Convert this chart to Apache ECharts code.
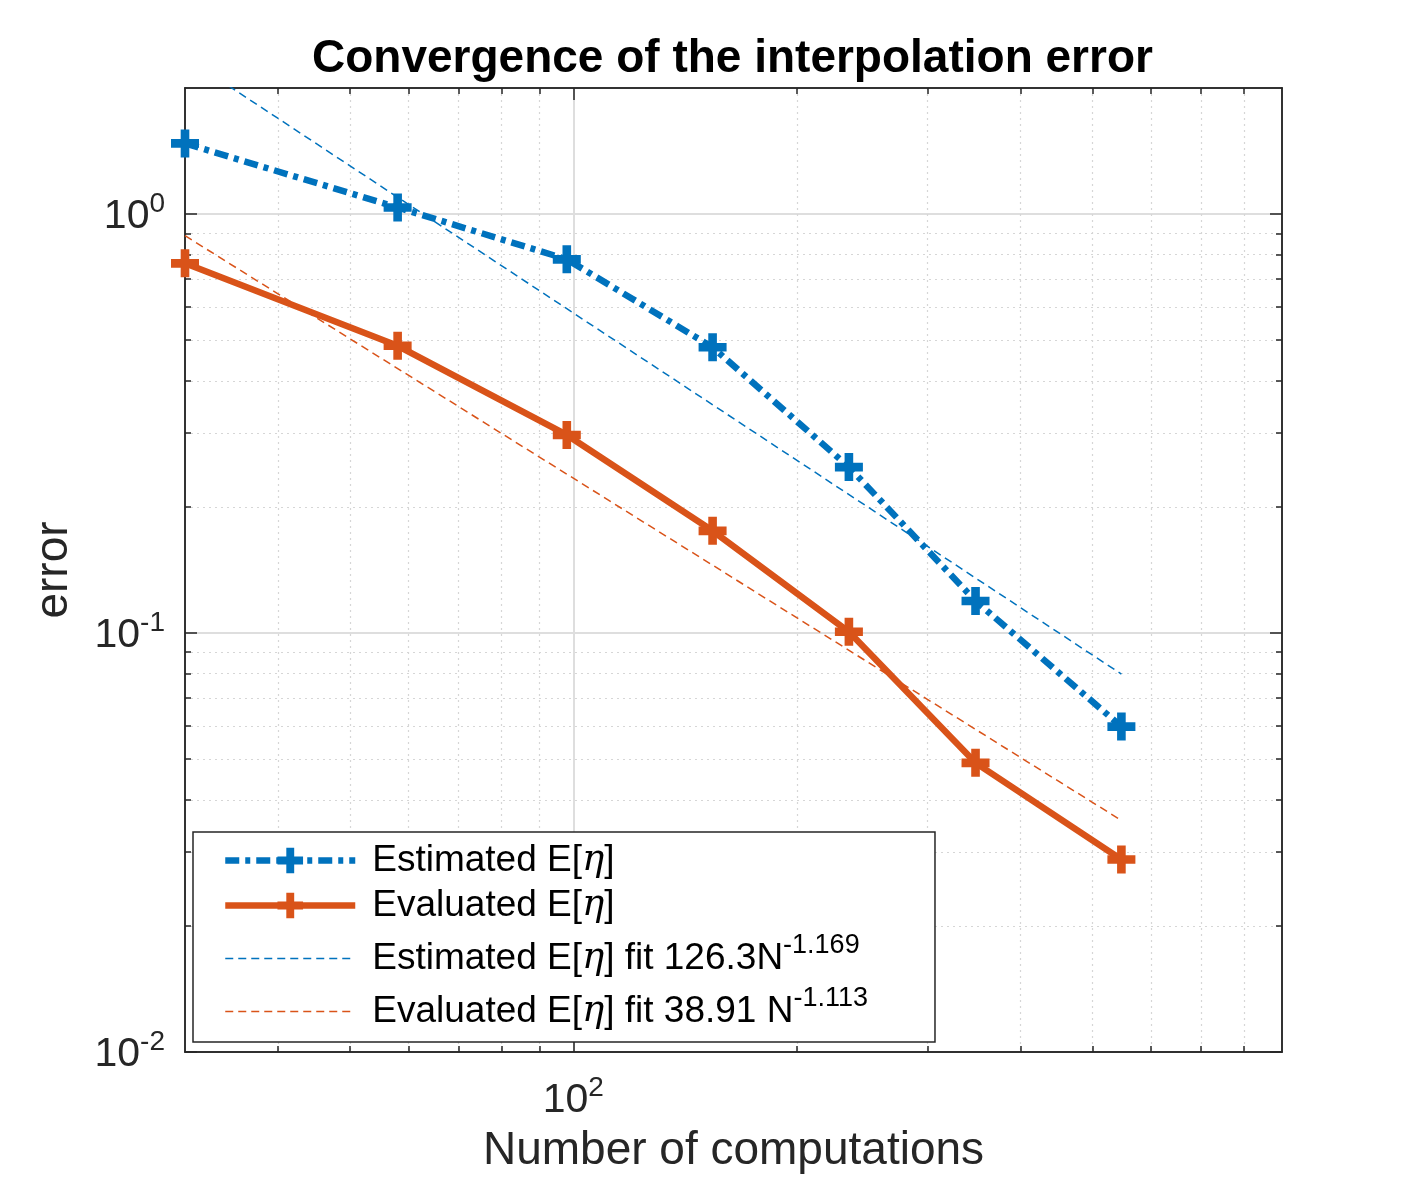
<!DOCTYPE html>
<html>
<head>
<meta charset="utf-8">
<title>Convergence of the interpolation error</title>
<script src="https://cdn.jsdelivr.net/npm/echarts@6/dist/echarts.min.js"></script>
<style>
  html, body { margin: 0; padding: 0; background: #fff; }
  #main { width: 1417px; height: 1181px; }
</style>
</head>
<body>
<div id="main"></div>
<script>
// data
var nComp = [30, 58, 98, 154, 235, 348, 547];
var estimated = [1.475, 1.037, 0.780, 0.481, 0.249, 0.1193, 0.0598];
var evaluated = [0.763, 0.485, 0.297, 0.1754, 0.1007, 0.0490, 0.0288];

// end points of the two fitted power laws (straight in log-log)
var fitN = [30, 547];
var estimatedFit = [2.37, 0.0798];
var evaluatedFit = [0.888, 0.0357];

// ticks
var xMajor = [100];
var xMinor = [40, 50, 60, 70, 80, 90, 200, 300, 400, 500, 600, 700, 800];
var yMajor = [0.01, 0.1, 1];
var yMinor = [0.02, 0.03, 0.04, 0.05, 0.06, 0.07, 0.08, 0.09,
              0.2, 0.3, 0.4, 0.5, 0.6, 0.7, 0.8, 0.9];

var legendNames = ['Estimated E[η]', 'Evaluated E[η]', 'Estimated E[η] fit', 'Evaluated E[η] fit'];
var legendLabels = {
  'Estimated E[η]': 'Estimated E[{it|η}]',
  'Evaluated E[η]': 'Evaluated E[{it|η}]',
  'Estimated E[η] fit': 'Estimated E[{it|η}] fit 126.3N{sup|-1.169}',
  'Evaluated E[η] fit': 'Evaluated E[{it|η}] fit 38.91 N{sup|-1.113}'
};

var BLUE = '#0072BD';
var ORANGE = '#D95319';
var AX = '#262626';
var FONT = 'Liberation Sans';
var PLUS = 'path://M9,0H17V9H26V17H17V26H9V17H0V9H9Z';

function pairs(xs, ys) {
  return xs.map(function (x, i) { return [x, ys[i]]; });
}

function powLabel(v) {
  var e = Math.round(Math.log10(v));
  return '{b|10}{sup|' + e + '}';
}
var powRich = {
  b: { fontSize: 41, fontFamily: FONT, color: AX, verticalAlign: 'bottom' },
  sup: { fontSize: 28, fontFamily: FONT, color: AX, verticalAlign: 'bottom', padding: [0, 0, 19, 0] }
};

function logAxis(dim, pos, ticks, len, opts) {
  var ax = {
    type: 'log',
    logBase: 10,
    position: pos,
    min: dim === 'x' ? 30 : 0.01,
    max: dim === 'x' ? 900 : 2,
    axisLine: { show: true, lineStyle: { color: AX, width: 1.5 } },
    axisTick: { show: true, inside: true, length: len, customValues: ticks,
                lineStyle: { color: AX, width: 1.5 } },
    axisLabel: { show: false },
    splitLine: { show: false },
    minorTick: { show: false },
    minorSplitLine: { show: false }
  };
  return Object.assign(ax, opts || {});
}

var chart = echarts.init(document.getElementById('main'), null, { renderer: 'canvas' });

var option = {
  backgroundColor: '#fff',
  animation: false,
  title: {
    text: 'Convergence of the interpolation error',
    left: 312,
    top: 31,
    padding: [5, 0, 5, 0],
    textStyle: { fontSize: 46, fontWeight: 'bold', color: '#000', fontFamily: FONT }
  },
  grid: {
    left: 185, right: 135, top: 88, bottom: 129,
    containLabel: false,
    outerBoundsMode: 'none',
    show: false
  },
  legend: {
    data: legendNames.map(function (n, i) {
      var item = { name: n };
      if (i >= 2) item.itemStyle = { opacity: 0 };
      item.lineStyle = { width: i < 2 ? 6.5 : 1.5 };
      return item;
    }),
    orient: 'vertical',
    left: 193,
    top: 832,
    itemWidth: 130,
    itemHeight: 32,
    itemGap: 8,
    padding: [10, 67, 12, 29],
    backgroundColor: '#fff',
    borderColor: AX,
    borderWidth: 1.5,
    borderRadius: 0,
    selectedMode: false,
    formatter: function (name) { return legendLabels[name]; },
    textStyle: {
      fontSize: 37,
      fontFamily: FONT,
      color: '#000',
      padding: [0, 0, 0, 12],
      rich: {
        it: { fontSize: 37, fontStyle: 'italic', fontFamily: 'DejaVu Serif', color: '#000' },
        sup: { fontSize: 27, fontFamily: FONT, color: '#000', padding: [0, 0, 26, 0] }
      }
    }
  },
  xAxis: [
    logAxis('x', 'bottom', xMajor, 12, {
      name: 'Number of computations',
      nameLocation: 'middle',
      nameGap: 76,
      nameTextStyle: { fontSize: 46, fontFamily: FONT, color: AX },
      axisLabel: { show: true, customValues: xMajor, margin: 22, formatter: powLabel, rich: powRich },
      splitLine: { show: true, lineStyle: { color: '#dedede', width: 2 } }
    }),
    logAxis('x', 'bottom', xMinor, 6, {
      splitLine: { show: true, lineStyle: { color: '#d6d6d6', width: 1.2, type: [2, 4] } }
    }),
    logAxis('x', 'top', xMajor, 12),
    logAxis('x', 'top', xMinor, 6)
  ],
  yAxis: [
    logAxis('y', 'left', yMajor, 12, {
      name: 'error',
      nameLocation: 'middle',
      nameGap: 108,
      nameTextStyle: { fontSize: 46, fontFamily: FONT, color: AX },
      axisLabel: { show: true, customValues: yMajor, margin: 20, formatter: powLabel, rich: powRich },
      splitLine: { show: true, lineStyle: { color: '#dedede', width: 2 } }
    }),
    logAxis('y', 'left', yMinor, 6, {
      splitLine: { show: true, lineStyle: { color: '#d6d6d6', width: 1.2, type: [2, 4] } }
    }),
    logAxis('y', 'right', yMajor, 12),
    logAxis('y', 'right', yMinor, 6)
  ],
  series: [
    {
      name: 'Estimated E[η]',
      type: 'line',
      xAxisIndex: 0, yAxisIndex: 0,
      data: pairs(nComp, estimated),
      symbol: PLUS,
      symbolSize: 28,
      itemStyle: { color: BLUE },
      lineStyle: { color: BLUE, width: 6.5, type: [14, 6, 5, 6], cap: 'butt' },
      z: 3
    },
    {
      name: 'Evaluated E[η]',
      type: 'line',
      xAxisIndex: 0, yAxisIndex: 0,
      data: pairs(nComp, evaluated),
      symbol: PLUS,
      symbolSize: 28,
      itemStyle: { color: ORANGE },
      lineStyle: { color: ORANGE, width: 6.5 },
      z: 3
    },
    {
      name: 'Estimated E[η] fit',
      type: 'line',
      xAxisIndex: 0, yAxisIndex: 0,
      data: pairs(fitN, estimatedFit),
      showSymbol: false,
      symbol: 'circle',
      itemStyle: { color: BLUE },
      lineStyle: { color: BLUE, width: 1.5, type: [8, 5] },
      clip: true,
      z: 4
    },
    {
      name: 'Evaluated E[η] fit',
      type: 'line',
      xAxisIndex: 0, yAxisIndex: 0,
      data: pairs(fitN, evaluatedFit),
      showSymbol: false,
      symbol: 'circle',
      itemStyle: { color: ORANGE },
      lineStyle: { color: ORANGE, width: 1.5, type: [8, 5] },
      clip: true,
      z: 4
    }
  ]
};

chart.setOption(option);
</script>
</body>
</html>
